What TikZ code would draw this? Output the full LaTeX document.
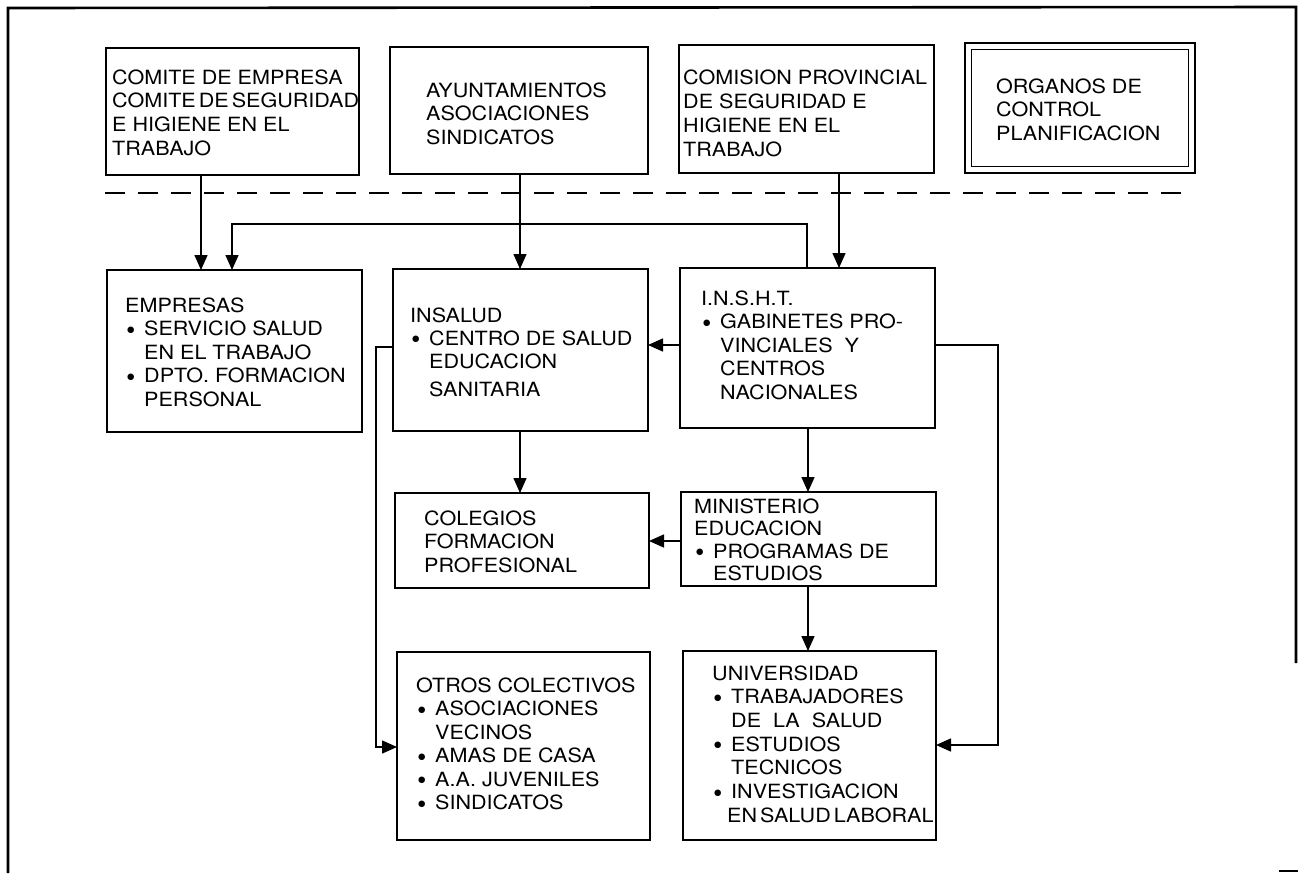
\documentclass[tikz,border=0pt]{standalone}
\usepackage{fontspec}
\setmainfont{TeX Gyre Heros}[FakeStretch=1.1]
\newfontfamily\dvfont{DejaVu Sans}
\usetikzlibrary{arrows.meta}
\newcommand\li[1]{\hbox{#1}}
\newcommand\mybul{\raisebox{3.5pt}{\dvfont\fontsize{8.5}{8.5}\selectfont ●}}
\newcommand\bli[1]{\hbox{\makebox[19pt][l]{\hspace{2pt}\mybul}#1}}
\newcommand\cli[1]{\hbox{\hspace{19pt}#1}}
\begin{document}
\begin{tikzpicture}[x=1pt,y=-1pt,
  box/.style={draw,line width=1.8pt,inner sep=0pt,outer sep=0pt},
  dbox/.style={draw,line width=1.6pt,double,double distance=4.6pt,inner sep=0pt,outer sep=0pt},
  txt/.style={anchor=base west,inner sep=0pt,font=\fontsize{19.6}{23.5}\selectfont},
  arr/.style={line width=1.5pt,-{Triangle[length=15pt,width=13pt]}},
  conn/.style={line width=1.5pt}]
\useasboundingbox (0,0) rectangle (1298,873);
% outer frame
\draw[line width=2.6pt] (8,873) -- (8,8) -- (1296,7) -- (1296,663);
\draw[line width=2pt] (1279,871) -- (1298,871);
% dashed separator
\draw[line width=1.5pt,dash pattern=on 20pt off 13pt] (105,193) -- (1193,193);
% boxes
\node[box,minimum width=253pt,minimum height=127pt] (comite) at (232.5,111.5) {};
\node[box,minimum width=258pt,minimum height=127pt] (ayunt) at (519,110.5) {};
\node[box,minimum width=255pt,minimum height=128pt] (comision) at (806.5,109) {};
\node[dbox,minimum width=223.4pt,minimum height=123.4pt] (organos) at (1080,108) {};
\node[box,minimum width=255pt,minimum height=162pt] (empresas) at (234.5,351) {};
\node[box,minimum width=255pt,minimum height=162pt] (insalud) at (520.5,350) {};
\node[box,minimum width=255pt,minimum height=160pt] (insht) at (807.5,348) {};
\node[box,minimum width=254pt,minimum height=95pt] (colegios) at (522,540.5) {};
\node[box,minimum width=255pt,minimum height=94pt] (ministerio) at (808.5,539) {};
\node[box,minimum width=253pt,minimum height=188pt] (otros) at (523.5,746) {};
\node[box,minimum width=253pt,minimum height=189pt] (universidad) at (809.5,745.5) {};
% texts
\node[txt] (comite-t) at (112,84) {\vtop{\baselineskip=23.7pt
  \li{COMITE DE EMPRESA}\li{COMITE\hspace{-3pt} DE\hspace{-3pt} SEGURIDAD}\li{E HIGIENE EN EL}\li{TRABAJO}}};
\node[txt] (ayunt-t) at (426,97) {\vtop{\li{AYUNTAMIENTOS}\li{ASOCIACIONES}\li{SINDICATOS}}};
\node[txt] (comision-t) at (683,84) {\vtop{\baselineskip=24pt
  \li{COMISION PROVINCIAL}\li{DE SEGURIDAD E}\li{HIGIENE EN EL}\li{TRABAJO}}};
\node[txt] (organos-t) at (996,93) {\vtop{\li{ORGANOS DE}\li{CONTROL}\li{PLANIFICACION}}};
\node[txt] (empresas-t) at (125,312) {\vtop{\li{EMPRESAS}\bli{SERVICIO SALUD}\cli{EN EL TRABAJO}\bli{DPTO. FORMACION}\cli{PERSONAL}}};
\node[txt] (insalud-t) at (410,322) {\vtop{\baselineskip=23pt
  \li{INSALUD}\bli{CENTRO DE SALUD}\cli{EDUCACION}\kern5pt\cli{SANITARIA}}};
\node[txt] (insht-t) at (701,305) {\vtop{\li{I.N.S.H.T.}\bli{GABINETES PRO-}\cli{VINCIALES\ \ Y}\cli{CENTROS}\cli{NACIONALES}}};
\node[txt] (colegios-t) at (424,525) {\vtop{\li{COLEGIOS}\li{FORMACION}\li{PROFESIONAL}}};
\node[txt] (ministerio-t) at (694,513) {\vtop{\baselineskip=22.5pt
  \li{MINISTERIO}\li{EDUCACION}\bli{PROGRAMAS DE}\cli{ESTUDIOS}}};
\node[txt] (otros-t) at (416,692) {\vtop{\li{OTROS COLECTIVOS}\bli{ASOCIACIONES}\cli{VECINOS}\bli{AMAS DE CASA}\bli{A.A. JUVENILES}\bli{SINDICATOS}}};
\node[txt] (universidad-t) at (712,680) {\vtop{\baselineskip=23.7pt
  \li{UNIVERSIDAD}\bli{TRABAJADORES}\cli{DE\ \ LA\ \ SALUD}\bli{ESTUDIOS}\cli{TECNICOS}\bli{INVESTIGACION}\hbox{\hspace{15pt}EN\hspace{-3pt} SALUD\hspace{-3pt} LABORAL}}};
% helper coordinates
\coordinate (xa) at (201,0);
\coordinate (xb) at (520,0);
\coordinate (xc) at (839,0);
\coordinate (xd) at (808,0);
\coordinate (ta) at (807,224);
\coordinate (tb) at (232,224);
\coordinate (ya) at (0,345);
\coordinate (yc) at (0,541);
\coordinate (ra) at (998,345);
\coordinate (rb) at (998,745);
\coordinate (la) at (376,347);
\coordinate (lb) at (376,747);
% connectors
\draw[arr] (comite.south -| xa) -- (empresas.north -| xa);
\draw[arr] (insht.north -| ta) -- (ta) -- (tb) -- (empresas.north -| tb);
\draw[arr] (ayunt.south -| xb) -- (insalud.north -| xb);
\draw[arr] (comision.south -| xc) -- (insht.north -| xc);
\draw[arr] (insht.west |- ya) -- (insalud.east |- ya);
\draw[arr] (insht.east |- ra) -- (ra) -- (rb) -- (universidad.east |- rb);
\draw[arr] (insalud.south -| xb) -- (colegios.north -| xb);
\draw[arr] (insalud.west |- la) -- (la) -- (lb) -- (otros.west |- lb);
\draw[arr] (insht.south -| xd) -- (ministerio.north -| xd);
\draw[arr] (ministerio.west |- yc) -- (colegios.east |- yc);
\draw[arr] (ministerio.south -| xd) -- (universidad.north -| xd);
\end{tikzpicture}
\end{document}
